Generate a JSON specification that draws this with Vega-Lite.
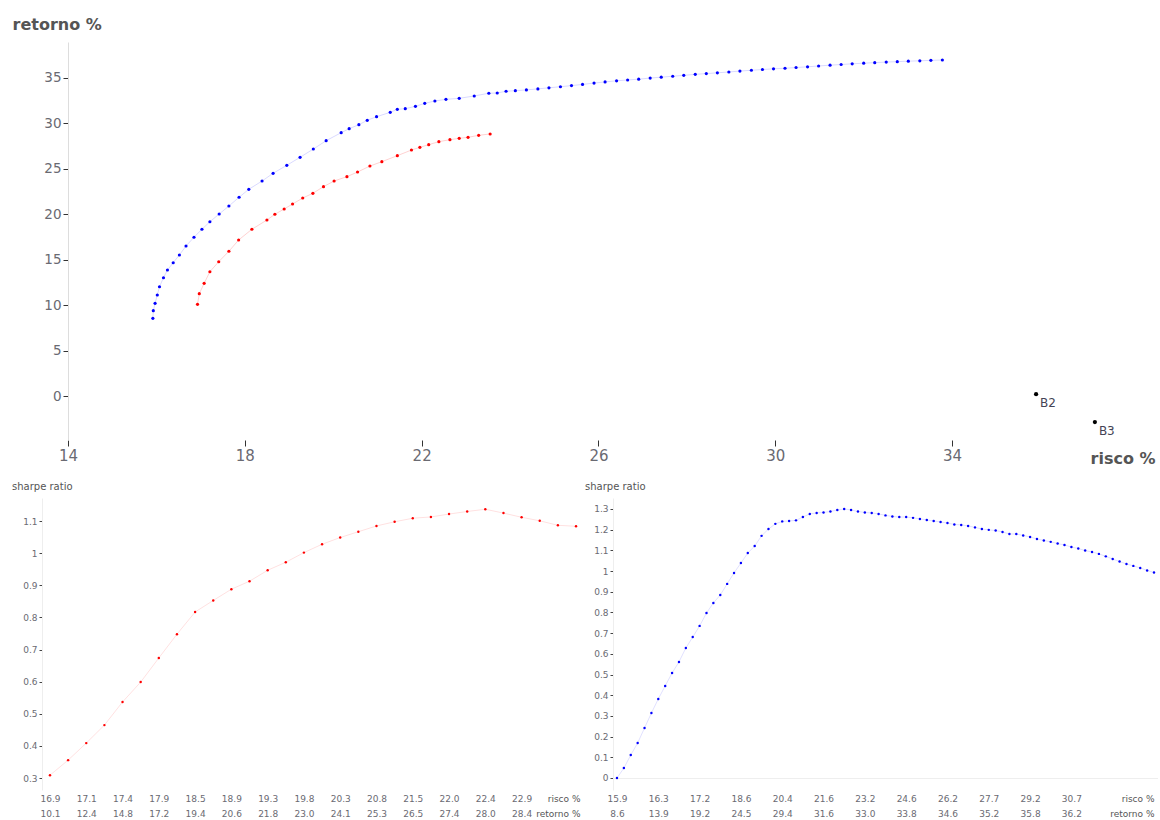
{
  "$schema": "https://vega.github.io/schema/vega-lite/v6.json",
  "background": "white",
  "padding": {"left": 12, "top": 16, "right": 0, "bottom": 0},
  "config": {
    "font": "DejaVu Sans",
    "view": {"stroke": null},
    "axis": {"grid": false, "domainColor": "#dddddd", "tickColor": "#333333", "labelColor": "#6a6a72", "titleColor": "#555555"}
  },
  "datasets": {
    "red": [
      {"i":0,"risco":16.93,"retorno":10.09,"sharpe":0.309,"rot":"0|16.9|10.1"},
      {"i":1,"risco":16.97,"retorno":11.26,"sharpe":0.356,"rot":"1|17.0|11.3"},
      {"i":2,"risco":17.08,"retorno":12.40,"sharpe":0.409,"rot":"2|17.1|12.4"},
      {"i":3,"risco":17.21,"retorno":13.68,"sharpe":0.465,"rot":"3|17.2|13.7"},
      {"i":4,"risco":17.41,"retorno":14.78,"sharpe":0.537,"rot":"4|17.4|14.8"},
      {"i":5,"risco":17.64,"retorno":15.93,"sharpe":0.599,"rot":"5|17.6|15.9"},
      {"i":6,"risco":17.86,"retorno":17.17,"sharpe":0.674,"rot":"6|17.9|17.2"},
      {"i":7,"risco":18.16,"retorno":18.35,"sharpe":0.748,"rot":"7|18.2|18.4"},
      {"i":8,"risco":18.50,"retorno":19.37,"sharpe":0.817,"rot":"8|18.5|19.4"},
      {"i":9,"risco":18.68,"retorno":20.00,"sharpe":0.853,"rot":"9|18.7|20.0"},
      {"i":10,"risco":18.89,"retorno":20.58,"sharpe":0.888,"rot":"10|18.9|20.6"},
      {"i":11,"risco":19.08,"retorno":21.13,"sharpe":0.913,"rot":"11|19.1|21.1"},
      {"i":12,"risco":19.31,"retorno":21.79,"sharpe":0.947,"rot":"12|19.3|21.8"},
      {"i":13,"risco":19.54,"retorno":22.31,"sharpe":0.972,"rot":"13|19.5|22.3"},
      {"i":14,"risco":19.78,"retorno":23.04,"sharpe":1.002,"rot":"14|19.8|23.0"},
      {"i":15,"risco":20.02,"retorno":23.66,"sharpe":1.028,"rot":"15|20.0|23.7"},
      {"i":16,"risco":20.31,"retorno":24.14,"sharpe":1.049,"rot":"16|20.3|24.1"},
      {"i":17,"risco":20.55,"retorno":24.65,"sharpe":1.067,"rot":"17|20.6|24.7"},
      {"i":18,"risco":20.83,"retorno":25.31,"sharpe":1.085,"rot":"18|20.8|25.3"},
      {"i":19,"risco":21.10,"retorno":25.79,"sharpe":1.098,"rot":"19|21.1|25.8"},
      {"i":20,"risco":21.45,"retorno":26.45,"sharpe":1.109,"rot":"20|21.5|26.5"},
      {"i":21,"risco":21.77,"retorno":27.07,"sharpe":1.113,"rot":"21|21.8|27.1"},
      {"i":22,"risco":21.96,"retorno":27.37,"sharpe":1.122,"rot":"22|22.0|27.4"},
      {"i":23,"risco":22.16,"retorno":27.66,"sharpe":1.130,"rot":"23|22.2|27.7"},
      {"i":24,"risco":22.39,"retorno":27.99,"sharpe":1.137,"rot":"24|22.4|28.0"},
      {"i":25,"risco":22.64,"retorno":28.21,"sharpe":1.125,"rot":"25|22.6|28.2"},
      {"i":26,"risco":22.85,"retorno":28.36,"sharpe":1.112,"rot":"26|22.9|28.4"},
      {"i":27,"risco":23.05,"retorno":28.47,"sharpe":1.101,"rot":"27|23.1|28.5"},
      {"i":28,"risco":23.29,"retorno":28.69,"sharpe":1.087,"rot":"28|23.3|28.7"},
      {"i":29,"risco":23.55,"retorno":28.84,"sharpe":1.084,"rot":"29|23.6|28.8"}
    ],
    "blue": [
      {"i":0,"risco":15.92,"retorno":8.55,"sharpe":0.000,"rot":"0|15.9|8.6"},
      {"i":1,"risco":15.93,"retorno":9.39,"sharpe":0.048,"rot":"1|15.9|9.4"},
      {"i":2,"risco":15.97,"retorno":10.20,"sharpe":0.111,"rot":"2|16.0|10.2"},
      {"i":3,"risco":16.02,"retorno":11.12,"sharpe":0.169,"rot":"3|16.0|11.1"},
      {"i":4,"risco":16.07,"retorno":12.03,"sharpe":0.242,"rot":"4|16.1|12.0"},
      {"i":5,"risco":16.16,"retorno":13.02,"sharpe":0.314,"rot":"5|16.2|13.0"},
      {"i":6,"risco":16.25,"retorno":13.87,"sharpe":0.382,"rot":"6|16.3|13.9"},
      {"i":7,"risco":16.38,"retorno":14.67,"sharpe":0.445,"rot":"7|16.4|14.7"},
      {"i":8,"risco":16.52,"retorno":15.52,"sharpe":0.507,"rot":"8|16.5|15.5"},
      {"i":9,"risco":16.67,"retorno":16.51,"sharpe":0.561,"rot":"9|16.7|16.5"},
      {"i":10,"risco":16.85,"retorno":17.47,"sharpe":0.628,"rot":"10|16.9|17.5"},
      {"i":11,"risco":17.03,"retorno":18.35,"sharpe":0.681,"rot":"11|17.0|18.4"},
      {"i":12,"risco":17.21,"retorno":19.18,"sharpe":0.735,"rot":"12|17.2|19.2"},
      {"i":13,"risco":17.42,"retorno":20.03,"sharpe":0.797,"rot":"13|17.4|20.0"},
      {"i":14,"risco":17.64,"retorno":20.91,"sharpe":0.846,"rot":"14|17.6|20.9"},
      {"i":15,"risco":17.87,"retorno":21.87,"sharpe":0.884,"rot":"15|17.9|21.9"},
      {"i":16,"risco":18.09,"retorno":22.75,"sharpe":0.938,"rot":"16|18.1|22.8"},
      {"i":17,"risco":18.39,"retorno":23.66,"sharpe":0.991,"rot":"17|18.4|23.7"},
      {"i":18,"risco":18.64,"retorno":24.51,"sharpe":1.039,"rot":"18|18.6|24.5"},
      {"i":19,"risco":18.95,"retorno":25.39,"sharpe":1.087,"rot":"19|19.0|25.4"},
      {"i":20,"risco":19.25,"retorno":26.27,"sharpe":1.121,"rot":"20|19.3|26.3"},
      {"i":21,"risco":19.55,"retorno":27.18,"sharpe":1.170,"rot":"21|19.6|27.2"},
      {"i":22,"risco":19.84,"retorno":28.10,"sharpe":1.203,"rot":"22|19.8|28.1"},
      {"i":23,"risco":20.18,"retorno":28.98,"sharpe":1.228,"rot":"23|20.2|29.0"},
      {"i":24,"risco":20.36,"retorno":29.42,"sharpe":1.240,"rot":"24|20.4|29.4"},
      {"i":25,"risco":20.58,"retorno":29.86,"sharpe":1.242,"rot":"25|20.6|29.9"},
      {"i":26,"risco":20.77,"retorno":30.34,"sharpe":1.245,"rot":"26|20.8|30.3"},
      {"i":27,"risco":20.98,"retorno":30.74,"sharpe":1.261,"rot":"27|21.0|30.7"},
      {"i":28,"risco":21.29,"retorno":31.22,"sharpe":1.276,"rot":"28|21.3|31.2"},
      {"i":29,"risco":21.45,"retorno":31.55,"sharpe":1.281,"rot":"29|21.5|31.6"},
      {"i":30,"risco":21.63,"retorno":31.62,"sharpe":1.283,"rot":"30|21.6|31.6"},
      {"i":31,"risco":21.86,"retorno":31.88,"sharpe":1.288,"rot":"31|21.9|31.9"},
      {"i":32,"risco":22.07,"retorno":32.21,"sharpe":1.295,"rot":"32|22.1|32.2"},
      {"i":33,"risco":22.30,"retorno":32.47,"sharpe":1.300,"rot":"33|22.3|32.5"},
      {"i":34,"risco":22.55,"retorno":32.65,"sharpe":1.295,"rot":"34|22.6|32.7"},
      {"i":35,"risco":22.85,"retorno":32.76,"sharpe":1.288,"rot":"35|22.9|32.8"},
      {"i":36,"risco":23.19,"retorno":33.02,"sharpe":1.283,"rot":"36|23.2|33.0"},
      {"i":37,"risco":23.52,"retorno":33.32,"sharpe":1.281,"rot":"37|23.5|33.3"},
      {"i":38,"risco":23.71,"retorno":33.35,"sharpe":1.276,"rot":"38|23.7|33.4"},
      {"i":39,"risco":23.91,"retorno":33.54,"sharpe":1.269,"rot":"39|23.9|33.5"},
      {"i":40,"risco":24.12,"retorno":33.60,"sharpe":1.264,"rot":"40|24.1|33.6"},
      {"i":41,"risco":24.37,"retorno":33.69,"sharpe":1.261,"rot":"41|24.4|33.7"},
      {"i":42,"risco":24.63,"retorno":33.80,"sharpe":1.261,"rot":"42|24.6|33.8"},
      {"i":43,"risco":24.88,"retorno":33.92,"sharpe":1.257,"rot":"43|24.9|33.9"},
      {"i":44,"risco":25.14,"retorno":34.04,"sharpe":1.252,"rot":"44|25.1|34.0"},
      {"i":45,"risco":25.39,"retorno":34.16,"sharpe":1.247,"rot":"45|25.4|34.2"},
      {"i":46,"risco":25.64,"retorno":34.29,"sharpe":1.242,"rot":"46|25.6|34.3"},
      {"i":47,"risco":25.90,"retorno":34.44,"sharpe":1.237,"rot":"47|25.9|34.4"},
      {"i":48,"risco":26.15,"retorno":34.57,"sharpe":1.232,"rot":"48|26.2|34.6"},
      {"i":49,"risco":26.41,"retorno":34.69,"sharpe":1.225,"rot":"49|26.4|34.7"},
      {"i":50,"risco":26.66,"retorno":34.78,"sharpe":1.223,"rot":"50|26.7|34.8"},
      {"i":51,"risco":26.91,"retorno":34.87,"sharpe":1.218,"rot":"51|26.9|34.9"},
      {"i":52,"risco":27.17,"retorno":34.99,"sharpe":1.211,"rot":"52|27.2|35.0"},
      {"i":53,"risco":27.42,"retorno":35.09,"sharpe":1.203,"rot":"53|27.4|35.1"},
      {"i":54,"risco":27.68,"retorno":35.19,"sharpe":1.199,"rot":"54|27.7|35.2"},
      {"i":55,"risco":27.93,"retorno":35.29,"sharpe":1.196,"rot":"55|27.9|35.3"},
      {"i":56,"risco":28.19,"retorno":35.40,"sharpe":1.189,"rot":"56|28.2|35.4"},
      {"i":57,"risco":28.44,"retorno":35.48,"sharpe":1.179,"rot":"57|28.4|35.5"},
      {"i":58,"risco":28.69,"retorno":35.57,"sharpe":1.179,"rot":"58|28.7|35.6"},
      {"i":59,"risco":28.95,"retorno":35.66,"sharpe":1.172,"rot":"59|29.0|35.7"},
      {"i":60,"risco":29.20,"retorno":35.76,"sharpe":1.165,"rot":"60|29.2|35.8"},
      {"i":61,"risco":29.46,"retorno":35.85,"sharpe":1.155,"rot":"61|29.5|35.9"},
      {"i":62,"risco":29.71,"retorno":35.93,"sharpe":1.148,"rot":"62|29.7|35.9"},
      {"i":63,"risco":29.96,"retorno":36.01,"sharpe":1.141,"rot":"63|30.0|36.0"},
      {"i":64,"risco":30.22,"retorno":36.07,"sharpe":1.133,"rot":"64|30.2|36.1"},
      {"i":65,"risco":30.47,"retorno":36.15,"sharpe":1.126,"rot":"65|30.5|36.2"},
      {"i":66,"risco":30.73,"retorno":36.23,"sharpe":1.116,"rot":"66|30.7|36.2"},
      {"i":67,"risco":30.98,"retorno":36.32,"sharpe":1.109,"rot":"67|31.0|36.3"},
      {"i":68,"risco":31.24,"retorno":36.41,"sharpe":1.099,"rot":"68|31.2|36.4"},
      {"i":69,"risco":31.49,"retorno":36.48,"sharpe":1.092,"rot":"69|31.5|36.5"},
      {"i":70,"risco":31.74,"retorno":36.56,"sharpe":1.083,"rot":"70|31.7|36.6"},
      {"i":71,"risco":32.00,"retorno":36.63,"sharpe":1.071,"rot":"71|32.0|36.6"},
      {"i":72,"risco":32.25,"retorno":36.69,"sharpe":1.058,"rot":"72|32.3|36.7"},
      {"i":73,"risco":32.51,"retorno":36.75,"sharpe":1.046,"rot":"73|32.5|36.8"},
      {"i":74,"risco":32.76,"retorno":36.80,"sharpe":1.034,"rot":"74|32.8|36.8"},
      {"i":75,"risco":33.01,"retorno":36.85,"sharpe":1.025,"rot":"75|33.0|36.9"},
      {"i":76,"risco":33.27,"retorno":36.89,"sharpe":1.015,"rot":"76|33.3|36.9"},
      {"i":77,"risco":33.52,"retorno":36.94,"sharpe":1.003,"rot":"77|33.5|36.9"},
      {"i":78,"risco":33.78,"retorno":36.98,"sharpe":0.993,"rot":"78|33.8|37.0"}
    ],
    "pts": [
      {"nome":"B2","risco":35.9,"retorno":0.2},
      {"nome":"B3","risco":37.23,"retorno":-2.86}
    ]
  },
  "spacing": 16,
  "vconcat": [
    {
      "width": 1113,
      "height": 398,
      "layer": [
        {
          "mark": {"type": "rule", "color": "#f0f0f0"},
          "encoding": {
            "x": {"datum": 14, "type": "quantitative",
              "scale": {"domain": [13.412, 38.59], "nice": false, "zero": false},
              "axis": {"values": [14,18,22,26,30,34], "labelFontSize": 15, "tickSize": 6, "labelPadding": 2, "domain": false,
                "title": "risco %", "titleFontSize": 16, "titleFontWeight": "bold", "titleAlign": "right",
                "titleX": 1113, "titleY": 23, "titleBaseline": "alphabetic"}},
            "x2": {"datum": 38.59},
            "y": {"datum": 0, "type": "quantitative",
              "scale": {"domain": [-4.84, 38.96], "nice": false, "zero": false},
              "axis": {"values": [0,5,10,15,20,25,30,35], "labelFontSize": 13.5, "tickSize": 5, "labelPadding": 2, "offset": -26,
                "title": "retorno %", "titleAngle": 0, "titleAlign": "left", "titleX": -56, "titleY": -13,
                "titleBaseline": "alphabetic", "titleFontSize": 16, "titleFontWeight": "bold"}}
          }
        },
        {
          "mark": {"type": "rule", "color": "#dddddd"},
          "encoding": {
            "x": {"datum": 14, "type": "quantitative"},
            "x2": {"datum": 38.59},
            "y": {"datum": -4.84, "type": "quantitative"}
          }
        },
        {
          "data": {"name": "red"},
          "mark": {"type": "line", "color": "#ff0000", "opacity": 0.18, "strokeWidth": 1},
          "encoding": {
            "x": {"field": "risco", "type": "quantitative"},
            "y": {"field": "retorno", "type": "quantitative"},
            "order": {"field": "i"}
          }
        },
        {
          "data": {"name": "red"},
          "mark": {"type": "circle", "color": "#ff0000", "size": 10, "opacity": 1},
          "encoding": {
            "x": {"field": "risco", "type": "quantitative"},
            "y": {"field": "retorno", "type": "quantitative"}
          }
        },
        {
          "data": {"name": "blue"},
          "mark": {"type": "line", "color": "#0000ff", "opacity": 0.15, "strokeWidth": 1},
          "encoding": {
            "x": {"field": "risco", "type": "quantitative"},
            "y": {"field": "retorno", "type": "quantitative"},
            "order": {"field": "i"}
          }
        },
        {
          "data": {"name": "blue"},
          "mark": {"type": "circle", "color": "#0000ff", "size": 10, "opacity": 1},
          "encoding": {
            "x": {"field": "risco", "type": "quantitative"},
            "y": {"field": "retorno", "type": "quantitative"}
          }
        },
        {
          "data": {"name": "pts"},
          "mark": {"type": "circle", "color": "#000000", "size": 18, "opacity": 1},
          "encoding": {
            "x": {"field": "risco", "type": "quantitative"},
            "y": {"field": "retorno", "type": "quantitative"}
          }
        },
        {
          "data": {"name": "pts"},
          "mark": {"type": "text", "align": "left", "baseline": "middle", "dx": 4, "dy": 9, "fontSize": 12, "color": "#444455"},
          "encoding": {
            "x": {"field": "risco", "type": "quantitative"},
            "y": {"field": "retorno", "type": "quantitative"},
            "text": {"field": "nome"}
          }
        }
      ]
    },
    {
      "spacing": 1,
      "hconcat": [
        {
          "title": {"text": "sharpe ratio", "anchor": "start", "frame": "group", "dx": -30, "fontSize": 10, "fontWeight": "normal", "color": "#555555", "offset": 6},
          "width": 542,
          "height": 292,
          "data": {"name": "red"},
          "encoding": {
            "x": {"field": "rot", "type": "ordinal", "sort": null,
              "scale": {"type": "point", "padding": 0.44},
              "axis": {"title": ["risco %", "retorno %"], "titleFontSize": 9, "titleFontWeight": "normal", "titleAlign": "right",
                "titleX": 538, "titleY": 4, "titleBaseline": "top", "titleLineHeight": 15,
                "labelFontSize": 9, "labelLineHeight": 15, "labelPadding": 4, "labelAngle": 0, "labelBaseline": "top",
                "labelOverlap": false, "ticks": false, "domain": false,
                "labelExpr": "(toNumber(split(datum.value,'|')[0]) % 2 == 0 && toNumber(split(datum.value,'|')[0]) < 28) ? slice(split(datum.value,'|'),1) : ''"}},
            "y": {"field": "sharpe", "type": "quantitative",
              "scale": {"domain": [0.263, 1.172], "nice": false, "zero": false},
              "axis": {"values": [0.3,0.4,0.5,0.6,0.7,0.8,0.9,1,1.1], "format": "~g", "labelFontSize": 9, "tickSize": 3,
                "labelPadding": 2, "labelOverlap": false, "title": null, "domainColor": "#eeeeee", "tickColor": "#444444"}}
          },
          "layer": [
            {"mark": {"type": "line", "color": "#ff0000", "opacity": 0.12, "strokeWidth": 1}},
            {"mark": {"type": "circle", "color": "#ff0000", "size": 6, "opacity": 1}}
          ]
        },
        {
          "title": {"text": "sharpe ratio", "anchor": "start", "frame": "group", "dx": -28, "fontSize": 10, "fontWeight": "normal", "color": "#555555", "offset": 6},
          "width": 545,
          "height": 292,
          "data": {"name": "blue"},
          "encoding": {
            "x": {"field": "rot", "type": "ordinal", "sort": null,
              "scale": {"type": "point", "padding": 0.58},
              "axis": {"title": ["risco %", "retorno %"], "titleFontSize": 9, "titleFontWeight": "normal", "titleAlign": "right",
                "titleX": 541, "titleY": 4, "titleBaseline": "top", "titleLineHeight": 15,
                "labelFontSize": 9, "labelLineHeight": 15, "labelPadding": 4, "labelAngle": 0, "labelBaseline": "top",
                "labelOverlap": false, "ticks": false, "domain": false,
                "labelExpr": "(toNumber(split(datum.value,'|')[0]) % 6 == 0 && toNumber(split(datum.value,'|')[0]) < 72) ? slice(split(datum.value,'|'),1) : ''"}},
            "y": {"field": "sharpe", "type": "quantitative",
              "scale": {"domain": [-0.058, 1.353], "nice": false, "zero": false},
              "axis": {"values": [0,0.1,0.2,0.3,0.4,0.5,0.6,0.7,0.8,0.9,1,1.1,1.2,1.3], "format": "~g", "labelFontSize": 9, "tickSize": 3,
                "labelPadding": 2, "labelOverlap": false, "title": null, "domainColor": "#eeeeee", "tickColor": "#444444",
                "grid": true, "gridColor": "#eeeeee",
                "gridOpacity": {"condition": {"test": "datum.value == 0", "value": 1}, "value": 0}}}
          },
          "layer": [
            {"mark": {"type": "line", "color": "#0000ff", "opacity": 0.12, "strokeWidth": 1}},
            {"mark": {"type": "circle", "color": "#0000ff", "size": 6, "opacity": 1}}
          ]
        }
      ]
    }
  ]
}
